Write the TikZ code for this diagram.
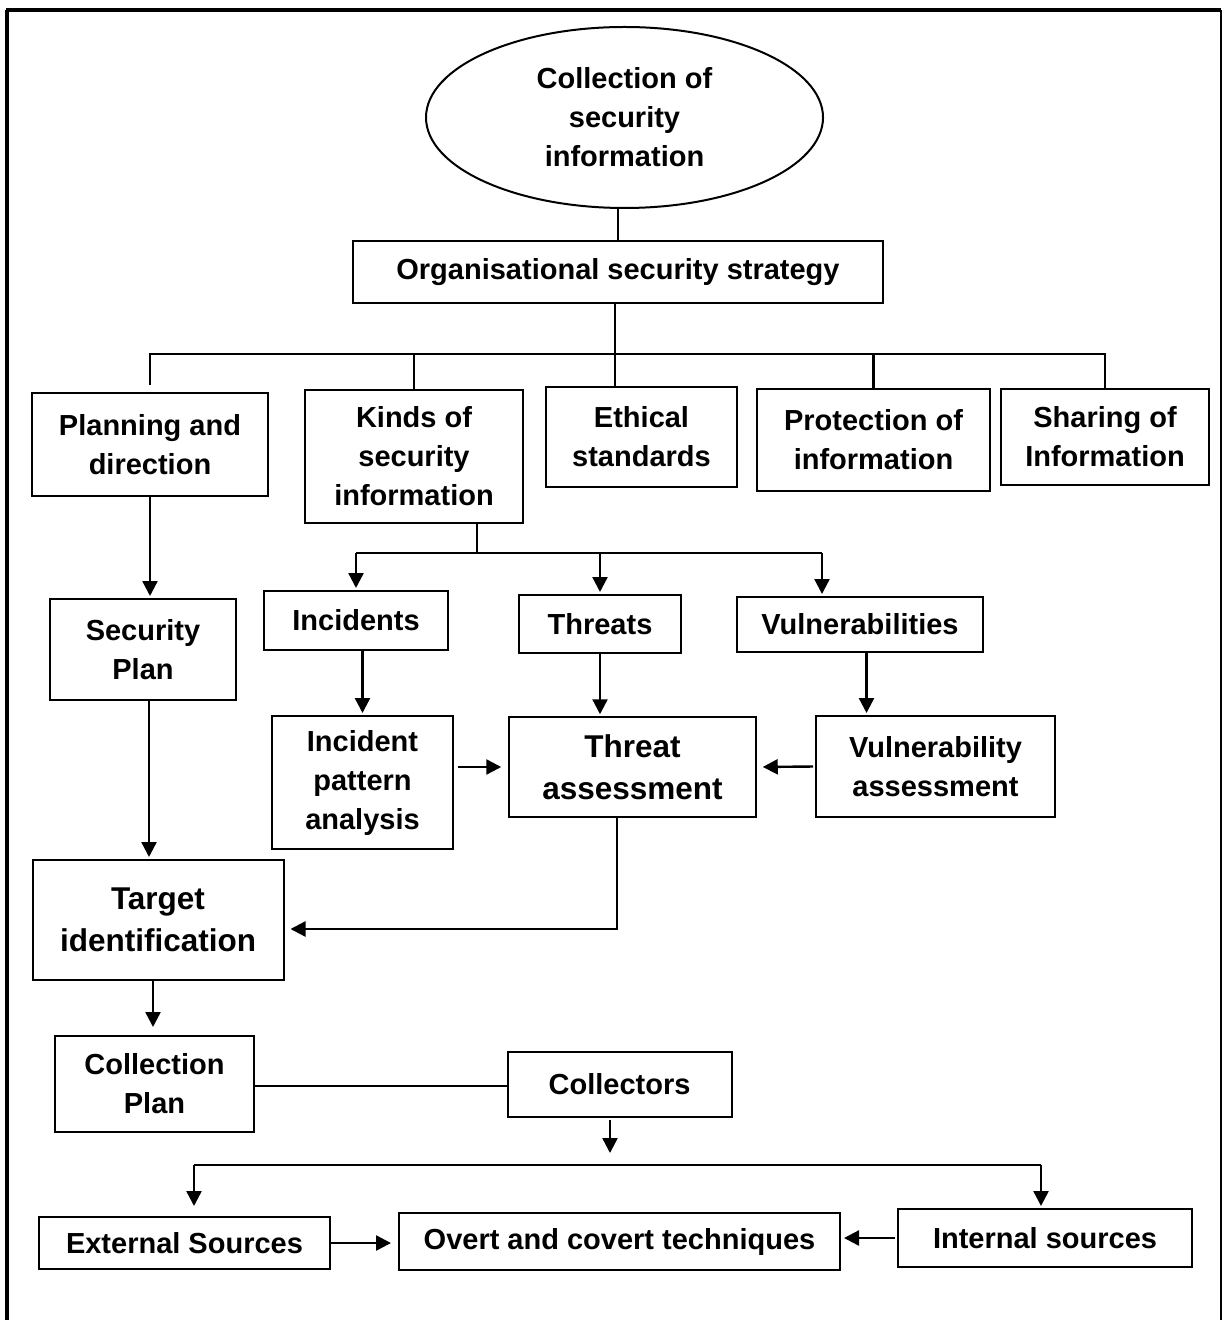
\documentclass[tikz,border=0pt]{standalone}
\usepackage{fontspec}
\setmainfont{Liberation Sans}
\usetikzlibrary{arrows.meta,shapes.geometric,calc}

\tikzset{
  box/.style={draw, line width=1pt, rectangle, align=center, inner sep=0pt,
              font=\fontsize{14.5}{19.5}\selectfont\bfseries},
  bigbox/.style={box, font=\fontsize{15.75}{20.75}\selectfont\bfseries},
  link/.style={line width=1.2pt},
  arr/.style={link, -{Triangle[length=7.5pt,width=7.5pt]}},
}

\newcommand{\bx}[6]{% name, cx, cy, w, h, text
  \node[box, minimum width=#4*0.5pt, minimum height=#5*0.5pt] (#1) at (#2,#3) {#6};}
\newcommand{\bbx}[6]{%
  \node[bigbox, minimum width=#4*0.5pt, minimum height=#5*0.5pt] (#1) at (#2,#3) {#6};}

\begin{document}
\begin{tikzpicture}[x=0.5pt, y=-0.5pt]
  \useasboundingbox (0,0) rectangle (1223,1320);

  % outer frame (open at the bottom)
  \draw[line width=1.6pt] (7,1320) -- (7,10);
  \draw[line width=1.8pt] (6,10) -- (1221,10);
  \draw[line width=1.1pt] (1221,10) -- (1221,1320);

  % top of the hierarchy
  \node[ellipse, draw, line width=1pt, inner sep=0pt, minimum width=397*0.5pt,
        minimum height=181*0.5pt, align=center,
        font=\fontsize{14.5}{19.5}\selectfont\bfseries] (ell) at (624.5,117.5)
        {Collection of\\security\\information};
  \bx{org}{618}{272}{530}{62}{Organisational security strategy}

  % second level
  \bx{plan}{150}{444.5}{236}{103}{Planning and\\direction}
  \bx{kinds}{414}{456.5}{218}{133}{Kinds of\\security\\information}
  \bx{eth}{641.5}{437}{191}{100}{Ethical\\standards}
  \bx{prot}{873.5}{440}{233}{101}{Protection of\\information}
  \bx{share}{1105}{437}{208}{96}{Sharing of\\Information}

  % kinds of information
  \bx{inc}{356}{620.5}{184}{59}{Incidents}
  \bx{thr}{600}{624}{162}{58}{Threats}
  \bx{vul}{860}{624.5}{246}{55}{Vulnerabilities}

  \bx{secplan}{143}{649.5}{186}{101}{Security\\Plan}
  \bx{ipa}{362.5}{782.5}{181}{133}{Incident\\pattern\\analysis}
  \bbx{ta}{632.5}{767}{246.5}{99.5}{Threat\\assessment}
  \bx{va}{935.5}{766.5}{239}{101}{Vulnerability\\assessment}

  \bbx{ti}{158}{920}{251}{120}{Target\\identification}
  \bx{cp}{154.5}{1084}{199}{96}{Collection\\Plan}
  \bx{coll}{619.5}{1084.5}{224}{65}{Collectors}

  \bx{ext}{184.5}{1243}{291}{52}{External Sources}
  \bx{ovc}{619.5}{1241.5}{441}{57}{Overt and covert techniques}
  \bx{int}{1045}{1238}{294}{58}{Internal sources}

  % routing points
  \coordinate (b1) at (615,354);
  \coordinate (b2) at (477,553);
  \coordinate (b2r) at (822,553);
  \coordinate (sx) at (149,0);
  \coordinate (vx) at (866.5,0);
  \coordinate (c3) at (617,929);
  \coordinate (tc) at (153,1027);
  \coordinate (cy) at (0,1086);
  \coordinate (ca) at (610,1153);
  \coordinate (b3l) at (194,1165);
  \coordinate (b3r) at (1041,1165);

  % ellipse to strategy, strategy to the second level
  \draw[link] (org.north) -- (org.north |- ell.south);
  \draw[link] (org.south -| b1) -- (b1);
  \draw[link] ($(plan.north)+(0,-7)$) -- (plan.north |- b1) -- (share.north |- b1) -- (share.north);
  \draw[link] (kinds.north) -- (kinds.north |- b1);
  \draw[link] (b1) -- (b1 |- eth.north);
  \draw[link] (prot.north) -- (prot.north |- b1);

  % planning branch
  \draw[arr, shorten >=1pt] (plan.south) -- (plan.south |- secplan.north);
  \draw[arr, shorten >=1pt] (sx |- secplan.south) -- (sx |- ti.north);

  % kinds of information branch
  \draw[link] (kinds.south -| b2) -- (b2);
  \draw[link] (inc.north |- b2) -- (b2r);
  \draw[arr, shorten >=1pt] (inc.north |- b2) -- (inc.north);
  \draw[arr, shorten >=1pt] (thr.north |- b2) -- (thr.north);
  \draw[arr, shorten >=1pt] (b2r) -- (b2r |- vul.north);

  \draw[arr, shorten >=1pt] (ipa.north |- inc.south) -- (ipa.north);
  \draw[arr, shorten >=1pt] (thr.south) -- (thr.south |- ta.north);
  \draw[arr, shorten >=1pt] (vx |- vul.south) -- (vx |- va.north);

  \draw[arr, shorten <=2pt, shorten >=3.5pt] (ipa.east |- ta.west) -- (ta.west);
  \draw[arr, shorten <=1pt, shorten >=3pt] (va.west) -- (ta.east);

  % assessment feeds target identification
  \draw[arr, shorten >=3pt] (ta.south -| c3) -- (c3) -- (ti.east |- c3);

  % collection
  \draw[arr] (tc |- ti.south) -- (tc);
  \draw[link] (cp.east |- cy) -- (coll.west |- cy);
  \draw[arr, shorten <=1pt] (ca |- coll.south) -- (ca);

  \draw[link] (b3l) -- (b3r);
  \draw[arr, shorten >=5pt] (b3l) -- (b3l |- ext.north);
  \draw[arr, shorten >=1pt] (b3r) -- (b3r |- int.north);

  \draw[arr, shorten >=3.5pt] (ext.east) -- (ext.east -| ovc.west);
  \draw[arr, shorten <=1pt, shorten >=1.5pt] (int.west) -- (int.west -| ovc.east);
\end{tikzpicture}
\end{document}
